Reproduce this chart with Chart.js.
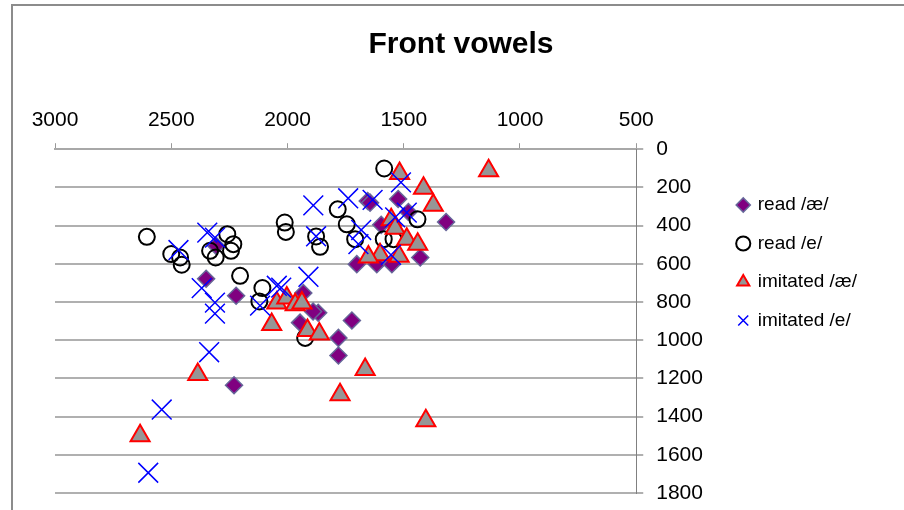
<!DOCTYPE html>
<html>
<head>
<meta charset="utf-8">
<script src="https://cdn.jsdelivr.net/npm/chart.js@4/dist/chart.umd.min.js"></script>
<style>
  html, body { margin: 0; padding: 0; background: #fff; }
  #wrap { width: 904px; height: 510px; }
</style>
</head>
<body>
<div id="wrap"><canvas id="c" width="904" height="510"></canvas></div>
<script>
// ---- data (F2 on x, F1 on y) ----
const seriesNames = ['read /æ/', 'read /e/', 'imitated /æ/', 'imitated /e/'];
const xTicks = [3000, 2500, 2000, 1500, 1000, 500];
const yTicks = [0, 200, 400, 600, 800, 1000, 1200, 1400, 1600, 1800];

const readAeX = [2307, 2350, 2221, 2230, 1932, 1868, 1890, 1946, 1723, 1781, 1781, 1702, 1616, 1551, 1429, 1655, 1645, 1524, 1480, 1318, 1597];
const readAeY = [506, 678, 767, 1236, 753, 856, 850, 908, 897, 988, 1080, 602, 602, 602, 567, 271, 280, 261, 329, 381, 396];

const readEX = [2605, 2500, 2462, 2455, 2333, 2309, 2259, 2233, 2243, 2204, 2108, 2121, 2012, 2007, 1877, 1860, 1784, 1745, 1709, 1584, 1586, 1544, 1441, 1924];
const readEY = [459, 549, 567, 605, 532, 567, 445, 497, 532, 663, 727, 797, 384, 433, 457, 511, 315, 393, 471, 101, 471, 471, 367, 988];

const imitAeX = [2634, 2386, 2068, 2046, 2003, 1967, 1938, 1914, 1863, 1666, 1774, 1405, 1135, 1518, 1415, 1373, 1554, 1537, 1487, 1440, 1602, 1652, 1520];
const imitAeY = [1500, 1179, 918, 805, 779, 814, 805, 949, 967, 1153, 1285, 1422, 113, 127, 205, 294, 370, 414, 471, 497, 553, 565, 561];

const imitEX = [2599, 2541, 2337, 2369, 2312, 2312, 2469, 2345, 2312, 2118, 2046, 2027, 1910, 1889, 1877, 1739, 1634, 1512, 1537, 1487, 1683, 1695, 1555];
const imitEY = [1694, 1363, 1063, 727, 803, 861, 528, 437, 463, 819, 715, 725, 668, 294, 456, 257, 265, 174, 357, 332, 423, 497, 553];

const pairs = (xs, ys) => xs.map((x, i) => ({ x: x, y: ys[i] }));

const FONT = '"Liberation Sans", Arial, "DejaVu Sans", sans-serif';

const frame = {
  id: 'frame',
  beforeDraw(chart) {
    const ctx = chart.ctx;
    ctx.save();
    ctx.fillStyle = '#fff';
    ctx.fillRect(0, 0, chart.width, chart.height);
    ctx.strokeStyle = '#8c8c8c';
    ctx.lineWidth = 2;
    ctx.beginPath();
    ctx.moveTo(12, chart.height + 5);
    ctx.lineTo(12, 5);
    ctx.lineTo(chart.width + 5, 5);
    ctx.stroke();
    ctx.restore();
  }
};

new Chart(document.getElementById('c'), {
  type: 'scatter',
  data: {
    datasets: [
      { label: seriesNames[0], data: pairs(readAeX, readAeY), order: 4,
        pointStyle: 'rectRot', pointRadius: 8.5, backgroundColor: '#800080', borderColor: '#666699', borderWidth: 1.5 },
      { label: seriesNames[1], data: pairs(readEX, readEY), order: 3,
        pointStyle: 'circle', pointRadius: 8, backgroundColor: 'rgba(0,0,0,0)', borderColor: '#000000', borderWidth: 2 },
      { label: seriesNames[2], data: pairs(imitAeX, imitAeY), order: 2,
        pointStyle: 'triangle', pointRadius: 11, backgroundColor: '#969696', borderColor: '#ff0000', borderWidth: 2 },
      { label: seriesNames[3], data: pairs(imitEX, imitEY), order: 1,
        pointStyle: 'crossRot', pointRadius: 14, backgroundColor: '#0000ff', borderColor: '#0000ff', borderWidth: 1.5 }
    ]
  },
  options: {
    responsive: false,
    animation: false,
    events: [],
    layout: { padding: { left: 55, right: 37, top: 0, bottom: 17 } },
    plugins: {
      title: {
        display: true, text: 'Front vowels', color: '#000',
        font: { family: FONT, size: 30, weight: 'bold' },
        padding: { top: 27, bottom: 35 }
      },
      legend: {
        display: true, position: 'right', align: 'start',
        title: { display: true, text: ' ', font: { size: 10 }, padding: { top: 164, bottom: 0 } },
        labels: {
          usePointStyle: true, boxWidth: 10, boxHeight: 10, padding: 19.5, color: '#000',
          font: { family: FONT, size: 19 },
          sort: (a, b) => a.datasetIndex - b.datasetIndex
        }
      },
      tooltip: { enabled: false }
    },
    scales: {
      x: {
        type: 'linear', position: 'top', reverse: true, min: 500, max: 3000,
        afterBuildTicks: (s) => { s.ticks = xTicks.map(v => ({ value: v })); },
        ticks: { color: '#000', font: { family: FONT, size: 21 }, padding: 10, callback: (v) => String(v) },
        grid: { drawOnChartArea: false, drawTicks: true, tickLength: 6, color: '#999999', lineWidth: 1 },
        border: { display: true, color: '#a8a8a8', width: 2 }
      },
      y: {
        type: 'linear', position: 'right', reverse: true, min: 0, max: 1800,
        afterBuildTicks: (s) => { s.ticks = yTicks.map(v => ({ value: v })); },
        afterFit: (s) => { s.width = 82.5; s.paddingTop = 0; s.paddingBottom = 0; },
        ticks: { color: '#000', font: { family: FONT, size: 21 }, padding: 13, callback: (v) => String(v) },
        grid: { color: '#b0b0b0', lineWidth: 2, drawTicks: true, tickLength: 7 },
        border: { display: true, color: '#808080', width: 1 }
      }
    }
  },
  plugins: [frame]
});
</script>
</body>
</html>
